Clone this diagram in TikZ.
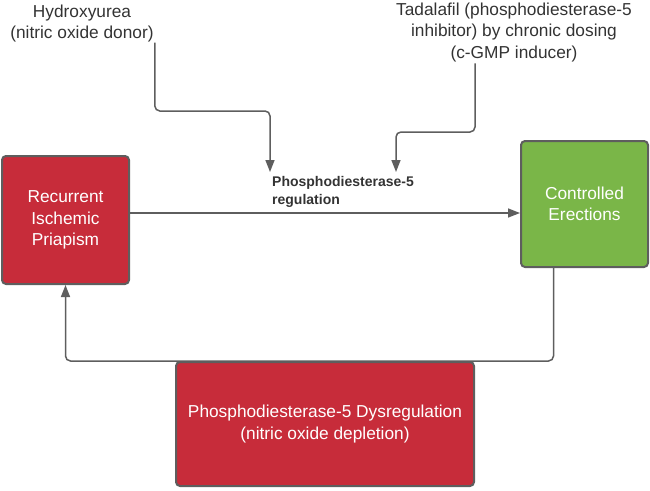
\documentclass[tikz,border=0pt]{standalone}
\usepackage{fontspec}
\setmainfont{Liberation Sans}
\usetikzlibrary{arrows.meta}

\definecolor{boxred}{HTML}{C72C3A}
\definecolor{boxgreen}{HTML}{7AB648}
\definecolor{edgegray}{HTML}{5E5E5E}
\definecolor{ink}{HTML}{333333}

\begin{document}
\begin{tikzpicture}[
  x=1pt, y=-1pt,
  box/.style={rectangle, draw=edgegray, line width=2pt, rounded corners=4pt,
              inner sep=0pt, align=center, text=white,
              font=\fontsize{17.3}{21.5}\selectfont},
  note/.style={inner sep=0pt, align=center, text=ink,
               font=\fontsize{17.3}{21.5}\selectfont},
  arrow/.style={-{Triangle[length=12pt,width=9pt]}, draw=edgegray,
                line width=1.5pt, rounded corners=5pt} % grey connectors
]
\useasboundingbox (0,0) rectangle (650,490);

\node[box, fill=boxred, minimum width=127pt, minimum height=128pt] (priapism) at (65.5,220) {Recurrent\\Ischemic\\Priapism};
\node[box, fill=boxgreen, minimum width=127pt, minimum height=126pt] (erections) at (584.5,204) {Controlled\\Erections};

\node[note] (hydroxy) at (82,23.5) {Hydroxyurea\\(nitric oxide donor)};
\node[note] (tadalafil) at (514,32.5) {Tadalafil (phosphodiesterase-5\\inhibitor) by chronic dosing\\(c-GMP inducer)};

\node[inner sep=0pt, align=left, text=ink, anchor=west,
      font=\fontsize{14}{18}\bfseries\selectfont] (regulation) at (272,192) {Phosphodiesterase-5\\regulation};

\coordinate (hydroxybend) at (270,111);
\coordinate (hydroxytip) at (270,172);
\coordinate (tadalafilbend) at (396,132);
\coordinate (tadalafiltip) at (396,172);

\draw[arrow] (priapism.east |- 0,213) -- (erections.west |- 0,213);
\draw[arrow] ([xshift=1pt]hydroxy.south east) |- (hydroxybend) -- (hydroxytip);
\draw[arrow] ([xshift=-39pt,yshift=-1pt]tadalafil.south) |- (tadalafilbend) -- (tadalafiltip);
\draw[arrow] ([xshift=-31pt]erections.south) |- (priapism.south |- 0,361) -- (priapism.south);

\node[box, fill=boxred, minimum width=298pt, minimum height=124pt] (dysregulation) at (325,424) {Phosphodiesterase-5 Dysregulation\\(nitric oxide depletion)};
\end{tikzpicture}
\end{document}
